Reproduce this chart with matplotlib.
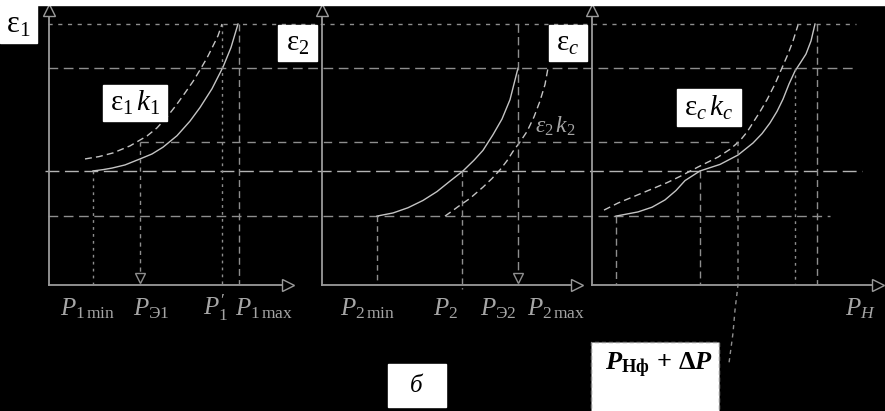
import matplotlib.pyplot as plt
from matplotlib.patches import Rectangle

plt.rcParams['mathtext.fontset'] = 'custom'
plt.rcParams['mathtext.rm'] = 'Liberation Serif'
plt.rcParams['mathtext.it'] = 'Liberation Serif:italic'
plt.rcParams['mathtext.bf'] = 'Liberation Serif:bold'
plt.rcParams['mathtext.bfit'] = 'Liberation Serif:italic:bold'

# horizontal origin of each of the three panels (shared x scale)
panel_x0 = [4.9, 32.2, 59.2]
panel_xlen = [23.9, 25.5, 28.6]
y_top = 10.55

# efficiency levels used as horizontal guides
e_low, e_nom, e_ref, e_hi, e_top = 2.64, 4.37, 5.48, 8.31, 10.0

# panel 1: eps1(P1) and eps1*k1(P1)
eps1_p = [4.4, 5.4, 6.3, 7.6, 9.1, 10.3, 11.4, 12.8, 14.1, 15.1, 16.3, 17.4, 18.2, 18.9]
eps1_e = [4.37, 4.42, 4.48, 4.60, 4.83, 5.02, 5.28, 5.72, 6.28, 6.80, 7.52, 8.35, 9.10, 10.0]
eps1k_p = [3.6, 5.0, 6.4, 8.1, 9.8, 10.8, 11.8, 12.7, 13.6, 14.4, 15.1, 15.8, 16.3, 16.9, 17.3]
eps1k_e = [4.83, 4.92, 5.06, 5.33, 5.71, 6.02, 6.44, 6.88, 7.36, 7.80, 8.24, 8.70, 9.08, 9.55, 10.0]

# panel 2: eps2(P2) and eps2*k2(P2)
eps2_p = [5.5, 7.1, 8.6, 10.1, 11.5, 12.8, 14.1, 15.2, 16.1, 17.1, 18.0, 18.8, 19.6]
eps2_e = [2.64, 2.76, 2.96, 3.24, 3.58, 3.98, 4.37, 4.78, 5.16, 5.76, 6.36, 7.10, 8.31]
eps2k_p = [12.3, 13.0, 13.6, 14.8, 16.1, 17.0, 17.8, 18.5, 19.1, 19.8, 20.5, 21.2, 21.8, 22.3, 22.6]
eps2k_e = [2.64, 2.83, 3.00, 3.32, 3.75, 4.08, 4.41, 4.76, 5.12, 5.48, 5.88, 6.44, 7.05, 7.68, 8.31]

# panel 3: epsc(PH) and epsc*kc(PH)
epsc_p = [2.4, 4.6, 6.0, 7.3, 8.4, 9.3, 10.8, 12.8, 14.6, 16.1, 17.0, 17.8, 18.5,
          19.1, 19.7, 20.3, 20.9, 21.4, 21.9, 22.3]
epsc_e = [2.64, 2.80, 2.98, 3.26, 3.62, 4.00, 4.37, 4.62, 4.98, 5.44, 5.80, 6.21, 6.65,
          7.12, 7.70, 8.20, 8.55, 8.85, 9.35, 10.0]
epsck_p = [1.2, 2.6, 4.3, 6.0, 7.5, 8.8, 10.6, 12.6, 13.8, 14.8, 15.5, 16.1, 16.8,
           17.5, 18.3, 19.0, 19.6, 20.1, 20.6]
epsck_e = [2.87, 3.14, 3.41, 3.68, 3.92, 4.16, 4.52, 4.90, 5.20, 5.53, 5.86, 6.22, 6.64,
           7.10, 7.70, 8.32, 8.85, 9.35, 9.96]

# power marks on each P axis
p1_min, p1_e, p1_prime, p1_max = 4.4, 9.1, 17.3, 19.0
p2_min, p2, p2_e = 5.5, 14.0, 19.6
pc_a, pc_b, pc_f, pc_c, pc_d = 2.4, 10.8, 14.6, 20.3, 22.5

p1_labels = [r'$P_{1\,\mathrm{min}}$', r'$P_{\mathrm{Э1}}$', r"$P_1'$", r'$P_{1\,\mathrm{max}}$']
p1_label_x = [1.1, 8.4, 15.4, 18.6]
p2_labels = [r'$P_{2\,\mathrm{min}}$', r'$P_2$', r'$P_{\mathrm{Э2}}$', r'$P_{2\,\mathrm{max}}$']
p2_label_x = [1.8, 11.1, 15.8, 20.5]
pc_labels = [r'$P_H$']
pc_label_x = [25.3]

curve_c = '#c4c4c4'
guide_c = '#8e8e8e'
axis_c = '#9a9a9a'
text_c = '#a6a6a6'

fig = plt.figure(figsize=(8.85, 4.11), dpi=100, facecolor='black')
ax = fig.add_axes([0, 0, 1, 1])
ax.set_facecolor('black')
ax.set_xlim(0, 88.5)
ax.set_ylim(-4.828, 10.92)
ax.axis('off')

# white strip along the top edge
ax.add_patch(Rectangle((0, 10.73), 88.5, 0.3, color='white', zorder=5))

# horizontal guides across all panels
ax.plot([4.8, 85.6], [e_top] * 2, color=guide_c, lw=1, ls=(0, (3, 4)))
ax.plot([4.8, 85.4], [e_hi] * 2, color=guide_c, lw=1, ls=(0, (7, 4)))
ax.plot([14.0, 73.8], [e_ref] * 2, color=guide_c, lw=1, ls=(0, (6, 5)))
ax.plot([4.5, 86.2], [e_nom] * 2, color='#b4b4b4', lw=1, ls=(0, (10, 4)))
ax.plot([4.8, 83.0], [e_low] * 2, color=guide_c, lw=1, ls=(0, (7, 4)))

# axes of each panel with hollow arrowheads
for x0, xl in zip(panel_x0, panel_xlen):
    ax.plot([x0, x0], [0, y_top], color=axis_c, lw=1.3)
    ax.plot([x0, x0 + xl], [0, 0], color=axis_c, lw=1.3)
    ax.plot([x0], [y_top], marker='^', ms=8, mfc='black', mec=axis_c, mew=1)
    ax.plot([x0 + xl], [0], marker='>', ms=8, mfc='black', mec=axis_c, mew=1)


def vline(x0, x, top, bottom=0.0, ls=(0, (2, 3)), arrow=False):
    ax.plot([x0 + x, x0 + x], [top, bottom], color=guide_c, lw=1, ls=ls)
    if arrow:
        ax.plot([x0 + x], [bottom + 0.25], marker='v', ms=7, mfc='black',
                mec=guide_c, mew=1)


def curve(x0, p, e, dashed=False):
    ax.plot([x0 + v for v in p], e, color=curve_c, lw=1,
            ls=(0, (5, 3)) if dashed else '-')


# panel 1
x0 = panel_x0[0]
curve(x0, eps1_p, eps1_e)
curve(x0, eps1k_p, eps1k_e, dashed=True)
vline(x0, p1_min, e_nom)
vline(x0, p1_e, e_ref, ls=(0, (3, 3)), arrow=True)
vline(x0, p1_prime, e_top)
vline(x0, p1_max, e_top, ls=(0, (5, 3)))

# panel 2
x0 = panel_x0[1]
curve(x0, eps2_p, eps2_e)
curve(x0, eps2k_p, eps2k_e, dashed=True)
vline(x0, p2_min, e_low, ls=(0, (4, 3)))
vline(x0, p2, e_nom, bottom=-0.15, ls=(0, (4, 3)))
vline(x0, p2_e, e_top, ls=(0, (6, 3)), arrow=True)

# panel 3
x0 = panel_x0[2]
curve(x0, epsc_p, epsc_e)
curve(x0, epsck_p, epsck_e, dashed=True)
vline(x0, pc_a, e_low, ls=(0, (5, 3)))
vline(x0, pc_b, e_nom, ls=(0, (5, 3)))
vline(x0, pc_c, e_hi)
vline(x0, pc_d, e_top, ls=(0, (5, 3)))
# pointer from the reference level down to the P_Hф + ΔP note
ax.plot([x0 + pc_f, x0 + pc_f, x0 + pc_f - 0.3, x0 + pc_f - 0.5, x0 + pc_f - 0.9],
        [e_ref, 0, -0.96, -1.84, -2.99], color=guide_c, lw=1, ls=(0, (3, 3)))

# P-axis labels
for x0, labels, xs in zip(panel_x0, [p1_labels, p2_labels, pc_labels],
                          [p1_label_x, p2_label_x, pc_label_x]):
    for lab, x in zip(labels, xs):
        ax.text(x0 + x, -1.15, lab, color=text_c, fontsize=18,
                ha='left', va='baseline')

ax.text(53.5, 5.82, r'$ε_2\,k_2$', color=text_c, fontsize=17,
        ha='left', va='baseline')


def box(x, y, w, h, label, size, tx=None, ty=None, dashed=False):
    ax.add_patch(Rectangle((x, y), w, h, facecolor='white',
                           edgecolor='#888888' if dashed else 'white',
                           ls=(0, (3, 2)) if dashed else '-', lw=1, zorder=6))
    ax.text(x + w / 2 if tx is None else tx, y + h / 2 if ty is None else ty,
            label, color='black', fontsize=size,
            ha='center' if tx is None else 'left', va='center', zorder=7)


box(0.0, 9.27, 3.7, 1.46, r'$\mathrm{ε}_1$', 22)
box(10.3, 6.28, 6.4, 1.38, r'$\mathrm{ε}_1\,k_1$', 21)
box(27.8, 8.58, 3.9, 1.38, r'$\mathrm{ε}_2$', 21)
box(54.9, 8.58, 3.8, 1.38, r'$\mathrm{ε}_c$', 21)
box(67.7, 6.09, 6.4, 1.42, r'$\mathrm{ε}_c\,k_c$', 21)
box(38.8, -4.67, 5.8, 1.64, r'$б$', 18)
box(59.1, -4.9, 12.8, 2.72, r'$\mathbfit{P}_{\mathbf{Нф}}\mathbf{\,+\,Δ}\mathbfit{P}$',
    19, tx=60.5, ty=-3.07, dashed=True)

fig.savefig('out.png', dpi=100, facecolor='black')
